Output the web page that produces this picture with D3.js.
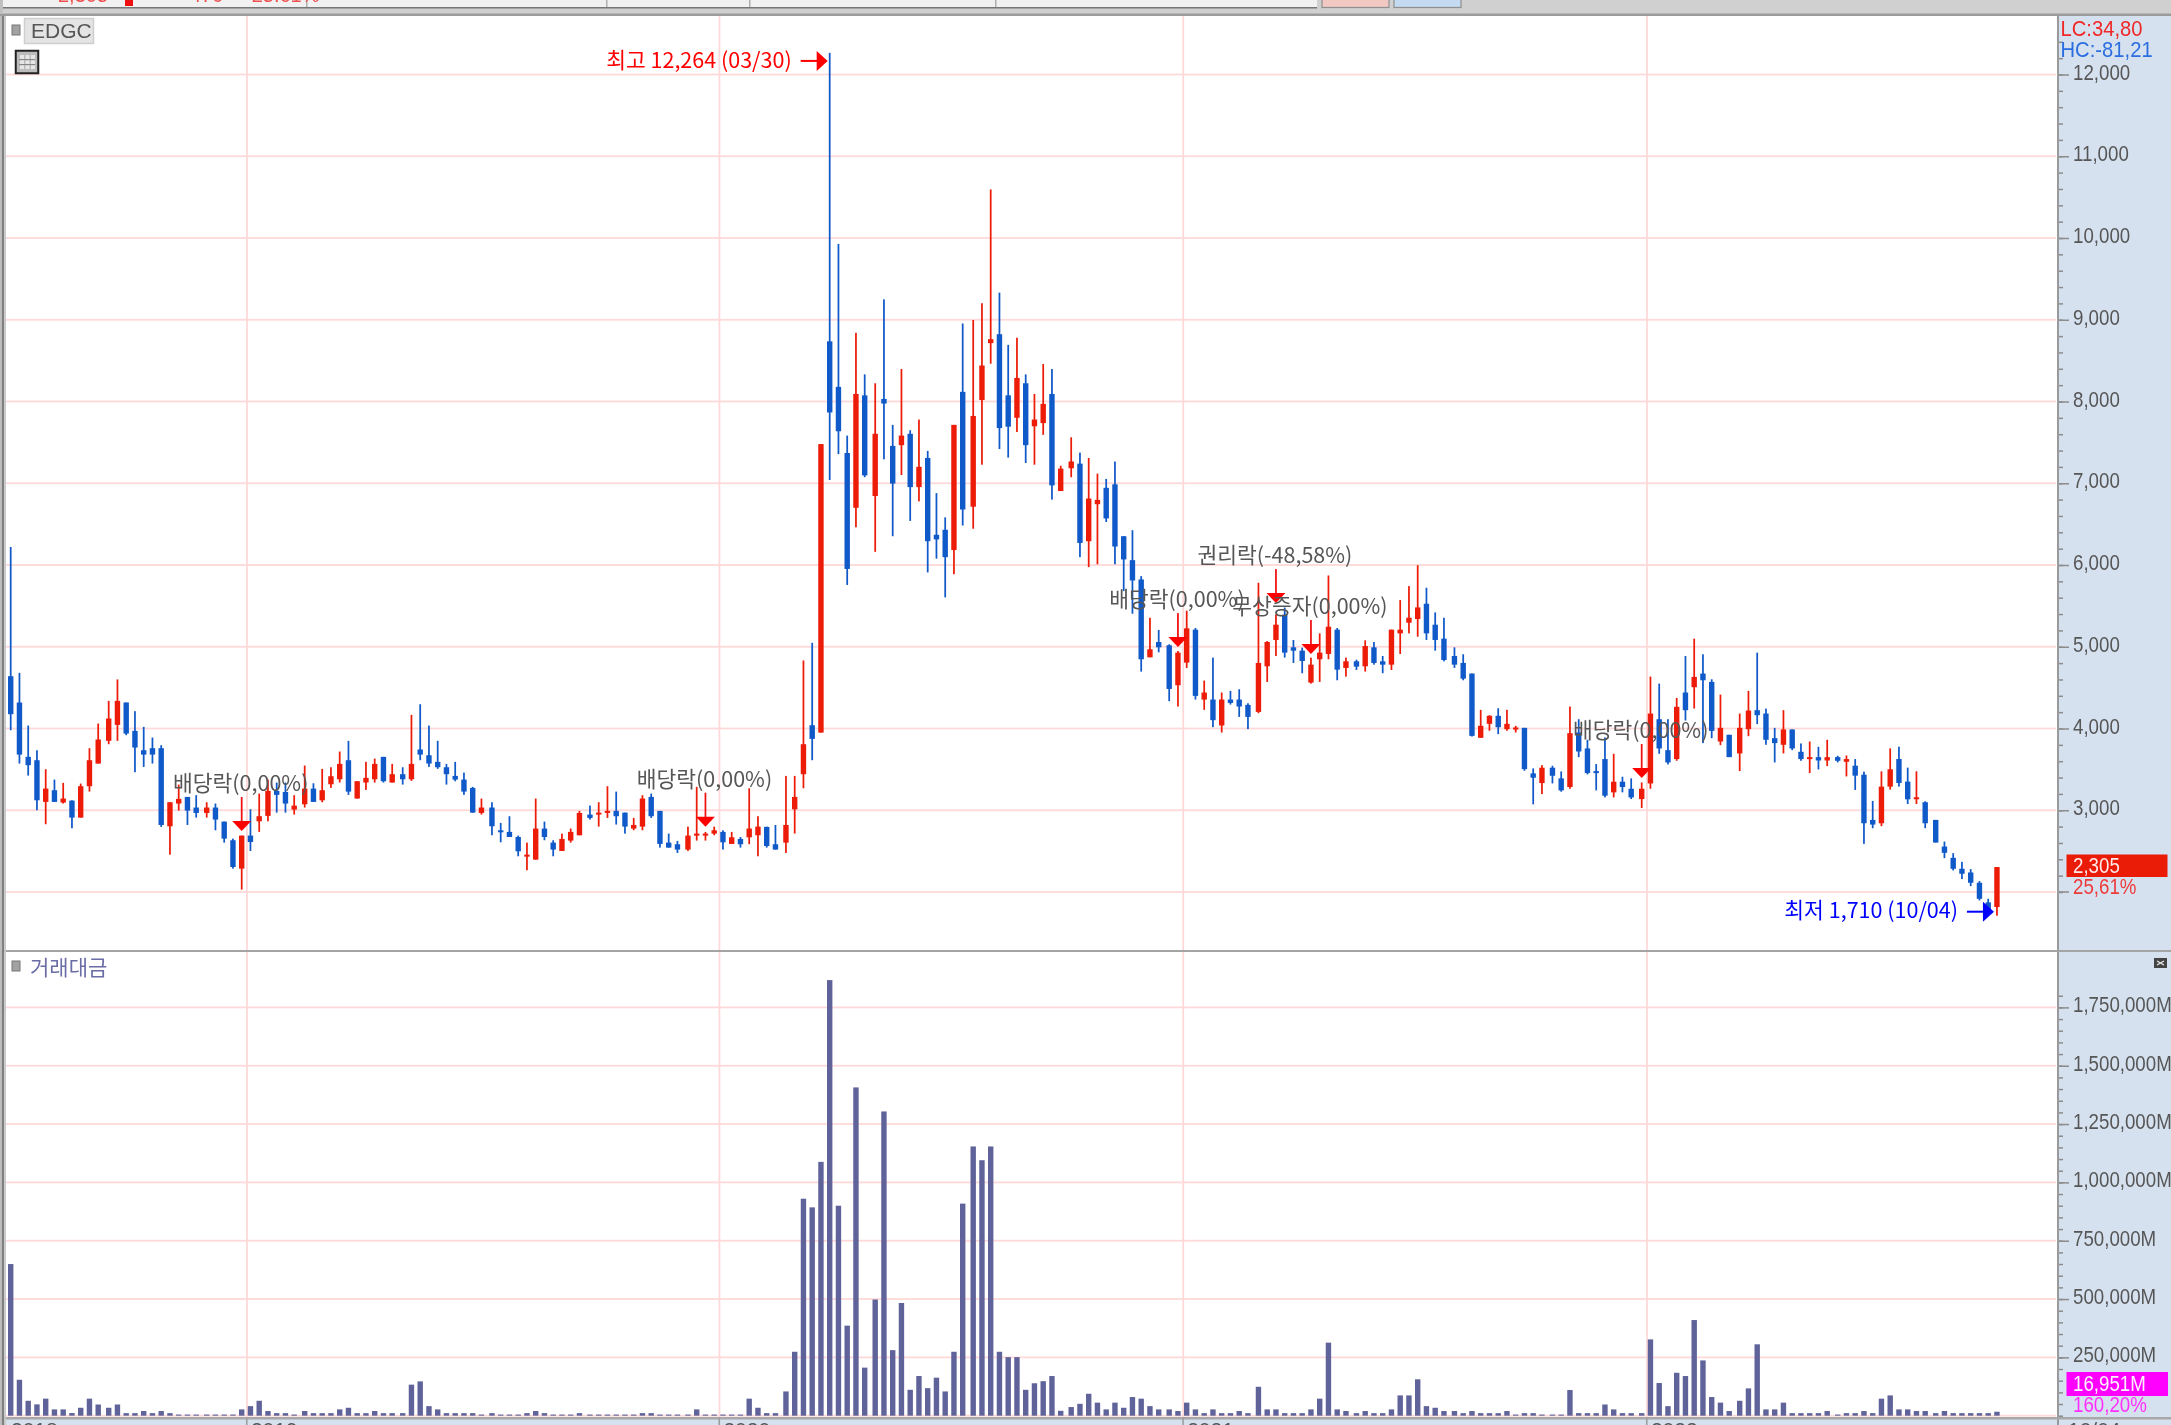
<!DOCTYPE html>
<html><head><meta charset="utf-8">
<script src="https://cdnjs.cloudflare.com/ajax/libs/d3/7.8.5/d3.min.js"></script>
<style>
html,body{margin:0;padding:0;background:#fff;overflow:hidden}
svg{display:block;filter:blur(0.45px)}
text{font-family:"Liberation Sans",sans-serif}
.ko{font-family:"Noto Sans CJK KR","Liberation Sans",sans-serif}
</style></head><body>
<svg id="c" width="2171" height="1425"></svg>
<script>
const opens=[4640,4318,3653,3612,3102,3245,3094,3118,2910,3294,
3571,3849,4044,4318,3971,3734,3759,3759,2804,3082,
3163,3033,2967,3033,2861,2633,2286,2690,2865,2931,
3237,3224,3008,3073,3265,3122,3318,3379,3612,3143,
3339,3379,3653,3339,3441,3379,3743,3673,3592,3526,
3420,3375,3273,2967,3033,2755,2735,2673,2441,2396,
2776,2604,2502,2629,2694,2947,2959,2971,2992,2971,
2776,2800,3163,2992,2604,2584,2519,2702,2702,2714,
2735,2588,2649,2669,2694,2796,2584,2604,3012,3441,
4040,3950,8736,8179,7370,6700,8075,6844,8031,7457,
7466,7605,6953,7309,6370,6431,6183,8118,6713,8018,
8714,8823,8075,7801,8223,7697,7736,8092,6905,7183,
7240,6291,6744,6944,6987,6352,6059,5823,4871,5058,
5018,4529,4806,5209,4354,4354,4037,4354,4354,4289,
4203,4761,5083,5392,4993,4952,4562,4847,4912,5209,
4741,4822,4761,4993,4822,4781,5164,5294,5339,5526,
5270,5099,4887,4802,4672,3886,4057,4155,3992,3992,
4008,3451,3333,3520,3390,3284,3951,3756,3479,3626,
3219,3349,3263,3137,3328,4114,3735,3626,4440,4505,
4672,4570,3841,3923,3695,3992,4224,4183,3882,3801,
3988,3715,3634,3650,3609,3650,3593,3545,3435,2882,
2841,3289,3627,3350,3142,3098,2882,2556,2418,2284,
2239,2113,1873,1816];
const highs=[6220,4681,4036,3734,3502,3375,3335,3122,3326,3759,
4061,4338,4600,4318,4212,4020,3889,3796,3098,3314,
3163,3184,3098,3082,2861,2653,2690,3012,3204,3375,
3339,3339,3184,3547,3330,3506,3526,3718,3849,3355,
3592,3632,3653,3567,3526,4167,4297,4036,3849,3567,
3592,3461,3286,3143,3098,2845,2927,2690,2604,3143,
2861,2633,2714,2776,2992,3057,3098,3294,3228,2971,
2906,3184,3204,2992,2714,2625,2800,3286,2735,2800,
2755,2735,2673,3269,2927,2800,2820,3420,3420,4832,
5048,7479,12264,9928,7583,8840,8332,8223,9249,7714,
8397,7649,7779,7396,6879,6583,7714,8954,8997,9202,
10594,9332,8693,8780,8332,8092,8458,8397,7214,7562,
7375,7309,7118,7053,7266,6352,6426,5864,5355,5205,
5030,4948,5441,5229,4586,4867,4440,4460,4480,4309,
5783,5070,5396,5480,5083,4989,4867,5164,5872,5229,
4867,4842,5079,5058,4887,5209,5571,5742,5998,5722,
5420,5355,4993,4908,4672,4228,4163,4248,4228,4033,
4008,3512,3552,3544,3475,4269,4114,3862,3565,3890,
3691,3410,3390,3341,4635,4549,4114,4374,4887,5099,
4908,4602,4415,3923,4183,4460,4928,4244,4008,4224,
3988,3817,3841,3776,3862,3666,3670,3626,3472,3114,
3476,3757,3777,3521,3476,3110,2882,2617,2475,2369,
2280,2133,1917,2305];
const lows=[3979,3571,3424,3000,2829,3102,3082,2780,2910,3228,
3571,3808,3849,3918,3465,3530,3571,2796,2457,2996,
2820,2910,2910,2755,2604,2286,2029,2502,2735,2865,
2971,2971,2947,3033,3102,3098,3273,3339,3188,3143,
3249,3339,3339,3339,3314,3359,3612,3530,3506,3314,
3355,3188,2971,2947,2694,2608,2673,2437,2266,2396,
2633,2437,2502,2604,2694,2886,2800,2906,2825,2714,
2755,2755,2906,2543,2543,2478,2502,2629,2629,2694,
2519,2588,2543,2584,2437,2543,2519,2478,2714,3269,
3612,3950,7040,7357,5756,6461,7074,6161,7292,6352,
7101,6539,6779,5909,6078,5604,5887,6483,6444,7227,
8462,7418,7314,7627,7248,7227,7592,6800,6905,7074,
6096,5974,6009,6526,6009,5681,5404,4696,4871,4932,
4334,4269,4741,4354,4228,4016,3951,4293,4142,3992,
4187,4570,4887,4867,4802,4676,4549,4570,4847,4590,
4635,4716,4696,4781,4676,4716,4912,5164,5123,5083,
4952,4822,4741,4590,3902,3886,3972,3931,3972,3951,
3483,3072,3198,3328,3227,3263,3650,3438,3243,3157,
3157,3219,3137,3027,3263,3691,3560,3605,4098,4244,
3821,3882,3796,3650,3479,3906,4053,3801,3585,3695,
3735,3605,3455,3499,3540,3585,3414,3248,2589,2780,
2805,3252,3289,3077,3077,2780,2605,2414,2263,2158,
2072,1897,1720,1710];
const closes=[4175,3681,3551,3122,3265,3102,3143,2910,3294,3612,
3865,4122,4338,3938,3767,3681,3681,2820,3098,3139,
2996,2967,3033,2886,2653,2306,2690,2612,2927,3237,
3188,3082,3057,3265,3102,3245,3416,3567,3228,3355,
3396,3567,3355,3441,3379,3567,3681,3571,3526,3441,
3375,3228,2971,3033,2804,2739,2673,2498,2457,2776,
2673,2519,2649,2735,2967,2906,2971,2992,2927,2800,
2820,3143,2927,2588,2543,2519,2690,2714,2714,2755,
2608,2669,2584,2776,2800,2563,2519,2820,3163,3808,
3873,7479,7866,7636,5952,8092,7096,7605,7975,6996,
7583,6953,7201,6291,6313,6096,7714,6679,7823,8440,
8762,7675,7692,8288,7466,7779,7971,6974,7179,7266,
6270,6813,6796,6570,6226,6068,5811,4847,4969,4993,
4484,4928,5225,4399,4440,4102,4354,4313,4269,4142,
4802,5058,5270,4928,4952,4826,4781,4928,5245,4720,
4822,4757,5009,4802,4781,5209,5209,5355,5481,5164,
5083,4838,4781,4610,3910,4033,4155,4016,4057,4012,
3503,3398,3520,3422,3243,3943,3719,3455,3463,3178,
3349,3284,3157,3263,4183,3756,3585,4265,4224,4631,
4590,3971,4008,3650,4008,4220,4163,3862,3821,3988,
3756,3626,3650,3609,3650,3605,3626,3423,2841,2825,
3289,3501,3334,3134,3159,2841,2605,2479,2284,2223,
2113,1917,1767,2305];
const volumes=[650000,154000,64000,48500,73000,27000,27000,11400,34000,73000,
48000,34000,48000,11000,11000,20000,11000,20000,11000,5000,
5000,5000,5000,5000,5000,5000,27000,41000,64000,20000,
11000,11000,5000,20000,11000,11000,11000,27000,34000,11000,
11000,20000,11000,11000,11000,133000,147000,41000,27000,11000,
11000,11000,11000,5000,11000,5000,5000,5000,11000,20000,
11000,5000,5000,5000,11000,5000,5000,5000,5000,5000,
5000,11000,11000,5000,5000,5000,5000,27000,5000,5000,
5000,5000,5000,73000,34000,11000,11000,104000,274000,930000,
893000,1088000,1867000,900000,386000,1407000,206000,498000,1304000,281000,
483000,111000,170000,118000,163000,104000,274000,909000,1154000,1095000,
1154000,274000,251000,251000,111000,139000,148000,170000,21000,37000,
51000,94000,56000,27000,56000,34000,80000,73000,41000,27000,
27000,20000,56000,27000,11000,27000,11000,11000,20000,11000,
124000,27000,27000,11000,11000,11000,27000,73000,313000,27000,
20000,11000,20000,11000,11000,27000,87000,87000,156000,41000,
34000,20000,20000,11000,20000,11000,11000,11000,20000,5000,
11000,11000,5000,5000,5000,110000,11000,11000,11000,48000,
27000,11000,11000,11000,327000,140000,41000,184000,170000,410000,
237000,80000,56000,20000,64000,117000,306000,27000,27000,56000,
11000,11000,11000,11000,20000,5000,11000,11000,20000,11000,
73000,87000,27000,27000,20000,20000,11000,20000,11000,11000,
11000,11000,11000,16951];

const priceGrid=d3.range(2000,12001,1000);
const priceTicks=d3.range(3000,12001,1000);
const priceMinor=d3.range(2000,12401,200);
const volTicks=[250000,500000,750000,1000000,1250000,1500000,1750000];
const volMinor=d3.range(0,1800001,50000);
const yearIdx=[27,80,132,184];
const yearLabels=["2019","2020","2021","2022"];
const eventLabels=["배당락(0,00%)","배당락(0,00%)","배당락(0,00%)","권리락(-48,58%)","무상증자(0,00%)","배당락(0,00%)"];
const eventIdx=[26,78,131,142,146,183];
const eventPrice=[2746,2799,4996,5534,4911,3394];

const W=2171,H=1425,axisX=2058,RED="#ec1c08",BLUE="#1059c9",VOL="#5f6399",GRID="#ffd9d9",AXBG="#d6e1ef",TXT="#565656";
const svg=d3.select("#c");
const n=opens.length;
// the source chart snaps candles to whole pixels, then is enlarged 1.75x
const snap=d3.scaleLinear().domain([0,43]).range([-1/43,219-1/43]);
const x=i=>10.7+1.75*Math.max(0,Math.floor(snap(i)+1e-9));
const y=d3.scaleLinear().domain([2000,12000]).range([892,74.5]);
const yv=d3.scaleLinear().domain([0,1750000]).range([1415.7,1007.4]);
const fmt=d3.format(",");

// backgrounds
svg.append("rect").attr("width",W).attr("height",H).attr("fill","#fff");
svg.append("rect").attr("x",axisX).attr("y",15).attr("width",W-axisX).attr("height",H-15).attr("fill",AXBG);
svg.append("rect").attr("x",0).attr("y",1418).attr("width",W).attr("height",H-1418).attr("fill",AXBG);

// clips
const defs=svg.append("defs");
defs.append("clipPath").attr("id","pp").append("rect").attr("x",6).attr("y",16).attr("width",axisX-6).attr("height",934);
defs.append("clipPath").attr("id","vp").append("rect").attr("x",6).attr("y",952).attr("width",axisX-6).attr("height",466);
defs.append("clipPath").attr("id","tb").append("rect").attr("x",0).attr("y",0).attr("width",W).attr("height",7);

// grids
const gridH=(sel,vals,sc)=>sel.selectAll(null).data(vals).join("rect").attr("x",6).attr("width",axisX-8).attr("y",d=>sc(d)-.9).attr("height",1.8).attr("fill",GRID);
const gp=svg.append("g").attr("clip-path","url(#pp)");
const gv=svg.append("g").attr("clip-path","url(#vp)");
gridH(gp,priceGrid,y);
gridH(gv,[0,...volTicks],yv);
for(const g of [gp,gv]) g.selectAll(null).data(yearIdx).join("rect").attr("x",i=>x(i)-4.4).attr("width",1.8).attr("y",0).attr("height",H).attr("fill",GRID);

// candles
const idx=d3.range(n);
const colour=i=>closes[i]>=opens[i]?RED:BLUE;
gp.selectAll(".w").data(idx).join("rect").attr("class","w").attr("x",i=>x(i)-.875).attr("width",1.75)
  .attr("y",i=>y(highs[i])).attr("height",i=>y(lows[i])-y(highs[i])).attr("fill",colour);
gp.selectAll(".b").data(idx).join("rect").attr("class","b").attr("x",i=>x(i)-2.7).attr("width",5.4)
  .attr("y",i=>y(Math.max(opens[i],closes[i]))).attr("height",i=>Math.max(2,Math.abs(y(opens[i])-y(closes[i])))).attr("fill",colour);

// volume
gv.selectAll(".v").data(idx).join("rect").attr("class","v").attr("x",i=>x(i)-2.7).attr("width",5.4)
  .attr("y",i=>yv(volumes[i])).attr("height",i=>yv(0)-yv(volumes[i])).attr("fill",VOL);

// events
eventIdx.forEach((i,k)=>{
  const tx=x(i),ty=y(eventPrice[k]);
  svg.append("rect").attr("x",tx-.875).attr("width",1.75).attr("y",ty-34).attr("height",26).attr("fill","#f01010");
  svg.append("path").attr("d",d3.line()([[tx-9.5,ty-10],[tx+9.5,ty-10],[tx,ty]])+"Z").attr("fill","#ff0000");
  svg.append("text").attr("class","ko").attr("x",tx-1).attr("y",ty-47.5).attr("dy",".36em").attr("text-anchor","middle")
    .attr("font-size",21.5).attr("fill",TXT).text(eventLabels[k]);
});

// high and low callouts
const arrow=(tip,ay,col,label)=>{
  svg.append("rect").attr("x",tip-27).attr("y",ay-1).attr("width",20).attr("height",2).attr("fill",col);
  svg.append("path").attr("d",d3.line()([[tip-11,ay-10],[tip,ay],[tip-11,ay+10]])+"Z").attr("fill",col);
  svg.append("text").attr("class","ko").attr("x",tip-36).attr("y",ay-1).attr("dy",".36em").attr("text-anchor","end")
    .attr("font-size",21.5).attr("fill",col).text(label);
};
arrow(x(92)-2,y(12264)+8,"#ff0000","최고 12,264 (03/30)");
arrow(x(223)-3,y(1710)-4,"#0000ff","최저 1,710 (10/04)");

// axes
const styleAxis=g=>{
  g.select(".domain").remove();
  g.selectAll(".tick line").attr("stroke","#8c8c8c").attr("stroke-width",1.5);
  g.selectAll(".tick text").attr("x",null).attr("dy",null).attr("y",null).attr("text-anchor","start")
   .attr("dominant-baseline","central").attr("transform","translate(15,-3) scale(.85,1)")
   .style("font-family",'"Liberation Sans",sans-serif').style("font-size","22px").attr("fill",TXT);
};
const ax=(sc,minor,major,f)=>{
  const gm=svg.append("g").attr("transform",`translate(${axisX},0)`)
    .call(d3.axisRight(sc).tickValues(minor).tickSize(5).tickFormat(""));
  gm.select(".domain").remove(); gm.selectAll(".tick line").attr("stroke","#8c8c8c").attr("stroke-width",1.5);
  const g=svg.append("g").attr("transform",`translate(${axisX},0)`)
    .call(d3.axisRight(sc).tickValues(major).tickSize(11).tickFormat(f));
  styleAxis(g);
};
ax(y,priceMinor,priceTicks,d=>fmt(d));
svg.append("rect").attr("x",axisX).attr("y",y(2000)-.75).attr("width",11).attr("height",1.5).attr("fill","#8c8c8c");
ax(yv,volMinor,volTicks,d=>fmt(d)+"M");

// axis line + separators
svg.append("rect").attr("x",axisX-1).attr("y",15).attr("width",2).attr("height",H-15).attr("fill","#9a9a9a");
svg.append("rect").attr("x",0).attr("y",950).attr("width",W).attr("height",2).attr("fill","#a4a4a4");
svg.append("rect").attr("x",0).attr("y",1417).attr("width",W).attr("height",2.5).attr("fill","#a8a8a8");

// badges
const txt=(xx,yy,s,col,size=22,sx=.85)=>svg.append("text").attr("transform",`translate(${xx},${yy}) scale(${sx},1)`)
  .attr("dominant-baseline","central").attr("font-size",size).attr("fill",col).text(s);
svg.append("rect").attr("x",2066.5).attr("y",854.5).attr("width",101).attr("height",22.5).attr("fill","#ea1c08");
txt(2073,865,"2,305","#ffe8e8");
txt(2073,886,"25,61%","#ee3a3a");
svg.append("rect").attr("x",2066.5).attr("y",1372).attr("width",101.5).attr("height",24).attr("fill","#ff00ff");
txt(2073,1383,"16,951M","#fff0ff");
txt(2073,1404,"160,20%","#ff30ff");
txt(2060.5,28,"LC:34,80","#f02828",22,.92);
txt(2060.5,49,"HC:-81,21","#2a6ee0",22,.92);

// chart title boxes
svg.append("rect").attr("x",24.5).attr("y",18.5).attr("width",69).attr("height",25).attr("fill","#e4e4e4").attr("stroke","#cfcfcf").attr("stroke-width",1.5);
svg.append("text").attr("x",31).attr("y",30).attr("dominant-baseline","central").attr("font-size",21).attr("fill",TXT).text("EDGC");
const sq=(sx,sy)=>svg.append("rect").attr("x",sx).attr("y",sy).attr("width",8).attr("height",10).attr("fill","#a2a2a2").attr("stroke","#777").attr("stroke-width",1);
sq(12,25); sq(12,961);
svg.append("text").attr("class","ko").attr("x",30).attr("y",966).attr("dominant-baseline","central").attr("font-size",21).attr("fill","#6a6da6").text("거래대금");
// table icon
const ti=svg.append("g").attr("transform","translate(15,50)");
ti.append("rect").attr("x",.75).attr("y",.75).attr("width",22.5).attr("height",22.5).attr("fill","#bcbcbc").attr("stroke","#222").attr("stroke-width",2);
ti.selectAll(null).data([5,10.5,16]).join("rect").attr("x",d=>d).attr("y",5).attr("width",4).attr("height",14).attr("fill","#e6e6e6");
ti.selectAll(null).data([9,14]).join("rect").attr("x",4).attr("y",d=>d).attr("width",16).attr("height",1.2).attr("fill","#888");
// close icon
svg.append("rect").attr("x",2154).attr("y",958).attr("width",13).attr("height",10).attr("fill","#444");
svg.append("path").attr("d","M2157 961l7 4m0-4l-7 4").attr("stroke","#eee").attr("stroke-width",1.2);

// bottom axis labels
const bot=(xx,s)=>svg.append("text").attr("x",xx).attr("y",1437).attr("font-size",21).attr("fill",TXT).text(s);
bot(11,"2018");
yearIdx.forEach((i,k)=>{
  svg.append("rect").attr("x",x(i)-4.4).attr("y",1418).attr("width",1.5).attr("height",7).attr("fill","#9a9a9a");
  bot(x(i)+0.5,yearLabels[k]);
});
bot(2068,"10/04");

// left edge
svg.append("rect").attr("x",0).attr("y",8).attr("width",2).attr("height",H).attr("fill","#bdbdbd");
svg.append("rect").attr("x",2).attr("y",8).attr("width",2.2).attr("height",H).attr("fill","#7f7f7f");
svg.append("rect").attr("x",4.2).attr("y",8).attr("width",1.8).attr("height",H).attr("fill","#c8c8c8");

// toolbar strip
svg.append("rect").attr("width",W).attr("height",15).attr("fill","#d0d0d0");
svg.append("rect").attr("y",0).attr("width",1317).attr("height",7).attr("fill","#f1f1f1");
svg.append("rect").attr("y",7).attr("width",1317).attr("height",1.5).attr("fill","#777");
svg.append("rect").attr("y",13.5).attr("width",W).attr("height",2.5).attr("fill","#9c9c9c");
svg.append("rect").attr("x",0).attr("y",0).attr("width",3).attr("height",14).attr("fill","#c0c0c0");
svg.selectAll(null).data([306,606,749,995]).join("rect").attr("x",d=>d).attr("y",0).attr("width",1.5).attr("height",7).attr("fill","#b0b0b0");
svg.append("rect").attr("x",1322).attr("y",-2).attr("width",67).attr("height",9.5).attr("fill","#f2c8c2").attr("stroke","#8f8f8f").attr("stroke-width",1.2);
svg.append("rect").attr("x",1394).attr("y",-2).attr("width",67).attr("height",9.5).attr("fill","#c4daf0").attr("stroke","#8f8f8f").attr("stroke-width",1.2);
svg.append("rect").attr("x",125).attr("y",0).attr("width",8).attr("height",6).attr("fill","#ee1010");
const tg=svg.append("g").attr("clip-path","url(#tb)");
[[58,"2,305","#ee5050"],[190,"470","#ee5050"],[240,"+25.61%","#ee5050"]].forEach(([a,s,c])=>
  tg.append("text").attr("x",a).attr("y",2).attr("font-size",20).attr("fill",c).text(s));
</script>
</body></html>
